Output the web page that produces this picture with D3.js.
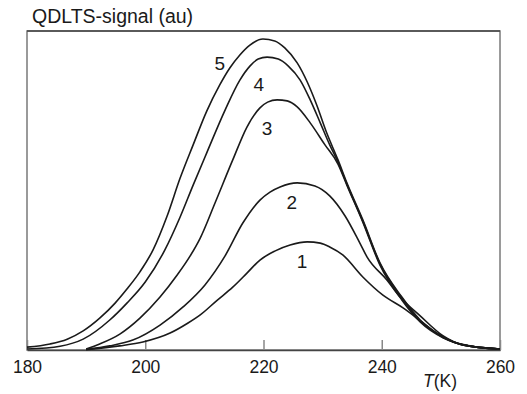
<!DOCTYPE html>
<html>
<head>
<meta charset="utf-8">
<script src="https://cdn.jsdelivr.net/npm/d3@7"></script>
<style>
  body { margin: 0; background: #fff; }
  svg { display: block; font-family: "Liberation Sans", Arial, sans-serif; }
</style>
</head>
<body>
<svg id="chart"></svg>
<script>
// temperature (K) and signal (au), one pair of arrays per curve
const t1 = [190, 195.7, 199.6, 204.2, 207.1, 209.3, 212.1, 214.8, 217.2, 219.4, 221.9, 224.5, 227.4, 229.6, 231.2, 233.4, 236.8, 240.2, 243.6, 247.0, 250.4, 254.9, 260];
const s1 = [0.1, 1.3, 2.5, 5.3, 8.3, 11.0, 15.5, 19.7, 24.1, 28.2, 31.0, 32.9, 33.9, 33.5, 32.3, 29.8, 22.9, 17.2, 13.2, 8.5, 3.8, 1.3, 0.3];

const t2 = [190, 194.0, 197.9, 202.5, 206.4, 210.1, 213.5, 216.5, 219.4, 221.1, 222.8, 225.7, 228.7, 231.2, 233.8, 236.3, 237.5, 240.9, 243.1, 246.5, 250.4, 253.7, 260];
const s2 = [0.2, 1.3, 3.1, 7.8, 13.5, 20.4, 29.5, 39.8, 47.0, 49.5, 51.1, 52.4, 51.4, 48.3, 42.0, 33.5, 29.2, 21.9, 16.6, 10.7, 4.4, 1.6, 0.3];

const t3 = [190, 192.3, 195.7, 199.1, 202.5, 205.4, 207.6, 209.3, 211.8, 214.8, 217.2, 219.4, 220.7, 222.3, 224.0, 225.7, 227.9, 230.4, 232.6, 234.1, 236.8, 239.7, 243.4, 246.5, 250.4, 253.7, 260];
const s3 = [0.3, 1.9, 5.0, 10.0, 16.6, 23.5, 29.5, 35.1, 46.1, 59.6, 69.9, 75.9, 77.7, 78.4, 78.1, 76.2, 71.2, 64.3, 58.3, 51.7, 40.1, 26.6, 15.7, 8.8, 3.8, 1.6, 0.3];

const t4 = [180, 185.6, 189.5, 194.0, 196.9, 200.0, 203.3, 205.9, 208.1, 210.4, 213.5, 216.0, 217.7, 219.1, 220.6, 222.5, 224.2, 226.2, 227.9, 229.6, 231.2, 232.6, 234.1, 236.8, 239.7, 243.4, 246.5, 250.4, 253.7, 260];
const s4 = [0.3, 1.2, 3.4, 9.4, 14.7, 21.3, 31.3, 41.7, 51.7, 61.8, 75.2, 84.6, 89.0, 91.2, 91.8, 91.2, 89.0, 84.6, 78.4, 71.2, 64.3, 58.9, 52.0, 40.4, 27.0, 16.3, 9.1, 4.1, 1.6, 0.3];

const t5 = [180, 183.9, 186.8, 189.5, 192.3, 194.9, 196.9, 199.1, 201.3, 203.7, 205.9, 208.1, 210.4, 212.6, 214.3, 216.0, 217.7, 219.9, 221.9, 223.6, 225.7, 227.4, 229.0, 230.7, 232.6, 234.1, 236.8, 239.7, 243.4, 246.5, 250.4, 253.7, 260];
const s5 = [0.9, 1.9, 3.4, 6.0, 10.0, 14.7, 19.1, 24.5, 31.3, 42.0, 53.9, 64.3, 74.9, 83.1, 88.4, 92.5, 95.6, 97.5, 96.9, 94.7, 90.0, 84.0, 76.8, 68.0, 59.6, 52.4, 40.8, 27.3, 16.6, 9.4, 4.1, 1.6, 0.3];

const curveNames = ['1', '2', '3', '4', '5'];
// label anchor (T, signal) for each curve number
const labelT = [226.5, 224.8, 220.6, 219.2, 212.6];
const labelS = [25.7, 44.2, 67.4, 81.2, 87.8];

const xTicks = [180, 200, 220, 240, 260];

const width = 527, height = 394;
const margin = {top: 31, right: 27, bottom: 44, left: 27};

const series = [[t1, s1], [t2, s2], [t3, s3], [t4, s4], [t5, s5]]
  .map(([t, s], i) => ({name: curveNames[i], values: t.map((d, j) => ({t: d, s: s[j]}))}));

const x = d3.scaleLinear()
    .domain([180, 260])
    .range([margin.left, width - margin.right]);

const y = d3.scaleLinear()
    .domain([0, 100])
    .range([height - margin.bottom, margin.top]);

const svg = d3.select('#chart')
    .attr('width', width)
    .attr('height', height)
    .attr('viewBox', [0, 0, width, height]);

// frame
svg.append('rect')
    .attr('x', x(180))
    .attr('y', y(100))
    .attr('width', x(260) - x(180))
    .attr('height', y(0) - y(100))
    .attr('fill', 'none')
    .attr('stroke', '#7a7a7a')
    .attr('stroke-width', 1.5);

svg.append('line')
    .attr('x1', x(180)).attr('x2', x(260))
    .attr('y1', y(100)).attr('y2', y(100))
    .attr('stroke', '#444')
    .attr('stroke-width', 1.5);

// x axis, ticks pointing inward
const xAxis = svg.append('g')
    .attr('transform', `translate(0,${y(0)})`)
    .call(d3.axisBottom(x).tickValues(xTicks).tickSizeInner(-10).tickSizeOuter(0).tickPadding(11).tickFormat(d3.format('d')));

xAxis.select('.domain')
    .attr('stroke', '#444')
    .attr('stroke-width', 1.5);
xAxis.selectAll('.tick line')
    .attr('stroke', '#888')
    .attr('stroke-width', 1.5);
xAxis.selectAll('.tick text')
    .attr('fill', '#1a1a1a')
    .style('font-size', '17.5px');

svg.append('text')
    .attr('x', 423)
    .attr('y', 387)
    .attr('fill', '#1a1a1a')
    .style('font-size', '17.5px')
    .call(t => {
      t.append('tspan').attr('font-style', 'italic').text('T');
      t.append('tspan').text('(K)');
    });

svg.append('text')
    .attr('x', 32)
    .attr('y', 23)
    .attr('fill', '#1a1a1a')
    .style('font-size', '19.5px')
    .text('QDLTS-signal (au)');

const line = d3.line()
    .x(d => x(d.t))
    .y(d => y(d.s))
    .curve(d3.curveMonotoneX);

svg.append('g')
    .attr('fill', 'none')
    .attr('stroke', '#1a1a1a')
    .attr('stroke-width', 1.6)
    .attr('stroke-linejoin', 'round')
  .selectAll('path')
  .data(series)
  .join('path')
    .attr('d', d => line(d.values));

svg.append('g')
    .attr('fill', '#1a1a1a')
    .attr('text-anchor', 'middle')
    .style('font-size', '19px')
  .selectAll('text')
  .data(curveNames)
  .join('text')
    .attr('x', (d, i) => x(labelT[i]))
    .attr('y', (d, i) => y(labelS[i]))
    .text(d => d);
</script>
</body>
</html>
